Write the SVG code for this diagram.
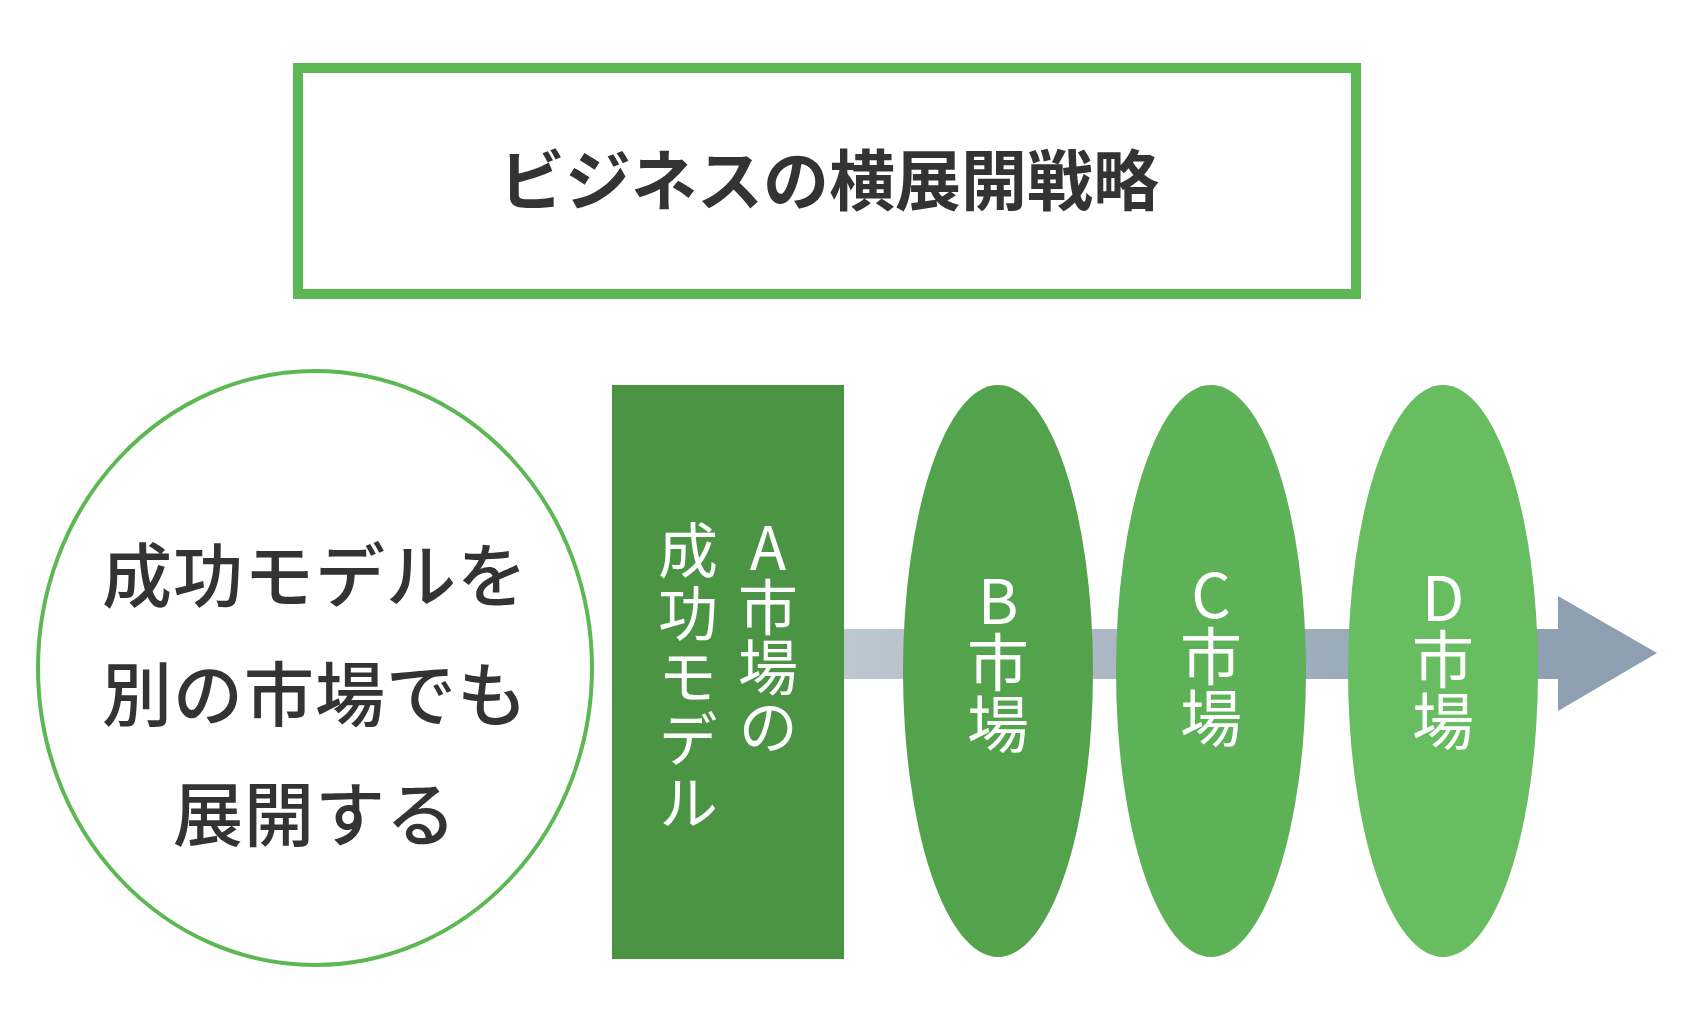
<svg xmlns="http://www.w3.org/2000/svg" width="1696" height="1036" viewBox="0 0 1696 1036">
  <style>
    .jp { font-family: "Noto Sans CJK JP", "Noto Sans", sans-serif; }
    .dark { fill: #333333; }
    .white { fill: #ffffff; }
    .vert { writing-mode: vertical-rl; text-orientation: upright; }
  </style>
  <defs>
    <linearGradient id="shaftGrad" x1="0" y1="0" x2="1" y2="0">
      <stop offset="0" stop-color="#bdc7d0"/>
      <stop offset="1" stop-color="#8e9fb1"/>
    </linearGradient>
  </defs>
  <rect width="1696" height="1036" fill="#ffffff"/>

  <g id="title">
    <rect x="298" y="68" width="1058" height="226" fill="#ffffff" stroke="#5cb853" stroke-width="10"/>
    <text class="jp dark" x="829" y="205" font-size="66" font-weight="700" text-anchor="middle">ビジネスの横展開戦略</text>
  </g>

  <g id="connectors">
    <rect x="844" y="629" width="716" height="50" fill="url(#shaftGrad)"/>
    <polygon points="1558,596 1657,653 1558,711" fill="#8e9fb1"/>
  </g>

  <g id="concept">
    <ellipse cx="315" cy="668" rx="277" ry="297" fill="#ffffff" stroke="#5cb853" stroke-width="4"/>
    <text class="jp dark" font-size="70" font-weight="500" text-anchor="middle" letter-spacing="1"><tspan x="315" y="602">成功モデルを</tspan><tspan x="315" y="721">別の市場でも</tspan><tspan x="315" y="841">展開する</tspan></text>
  </g>

  <g id="marketA">
    <rect x="612" y="385" width="232" height="574" fill="#4a9444"/>
    <text class="jp white vert" font-size="60" font-weight="400"><tspan x="768" y="517">A市場の</tspan><tspan x="688" y="520" letter-spacing="3">成功モデル</tspan></text>
  </g>

  <g id="marketB">
    <ellipse cx="998" cy="671" rx="95" ry="286" fill="#53a34c"/>
    <text class="jp white vert" x="998" y="662" font-size="62" text-anchor="middle">B市場</text>
  </g>

  <g id="marketC">
    <ellipse cx="1211" cy="671" rx="95" ry="286" fill="#5db156"/>
    <text class="jp white vert" x="1211" y="656" font-size="62" text-anchor="middle">C市場</text>
  </g>

  <g id="marketD">
    <ellipse cx="1443" cy="671" rx="95" ry="286" fill="#68bd60"/>
    <text class="jp white vert" x="1443" y="659" font-size="62" text-anchor="middle">D市場</text>
  </g>
</svg>
